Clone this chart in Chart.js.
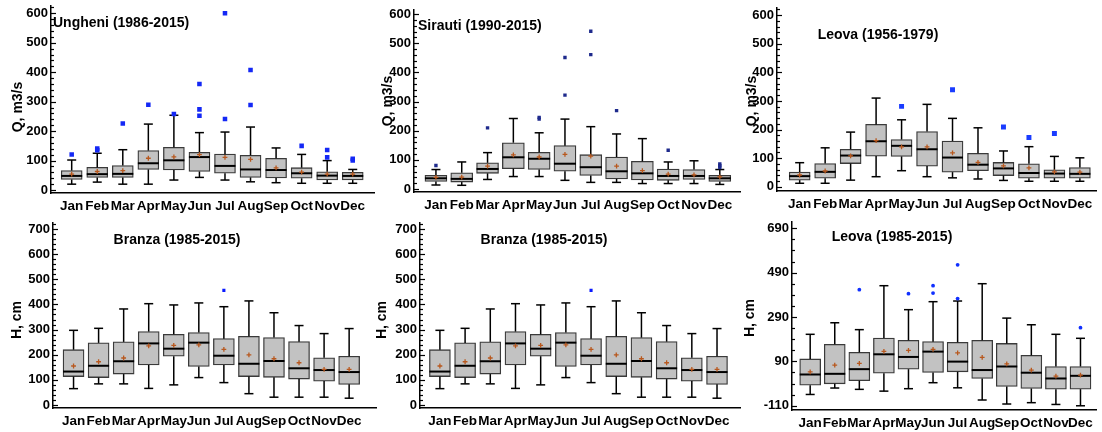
<!DOCTYPE html>
<html>
<head>
<meta charset="utf-8">
<script src="https://cdn.jsdelivr.net/npm/chart.js@4.4.1/dist/chart.umd.min.js"></script>
<style>
html, body { margin: 0; padding: 0; background: #fff; }
#wrap { position: relative; width: 1102px; height: 432px; overflow: hidden; }
#wrap canvas { position: absolute; }
</style>
</head>
<body>
<div id="wrap"></div>
<script>
const months = ['Jan', 'Feb', 'Mar', 'Apr', 'May', 'Jun', 'Jul', 'Aug', 'Sep', 'Oct', 'Nov', 'Dec'];

// tick labels
const qTicks = [0, 100, 200, 300, 400, 500, 600];
const hTicks = [0, 100, 200, 300, 400, 500, 600, 700];
const leovaHTicks = [-110, 90, 290, 490, 690];

// Ungheni (1986-2015), Q m3/s
const ungLow  = [20, 27, 20, 20, 34, 43, 34, 28, 25, 23, 23, 23];
const ungQ1   = [36, 43, 43, 70, 68, 63, 57, 43, 41, 40, 34, 34];
const ungMed  = [48, 54, 55, 91, 101, 112, 82, 70, 68, 57, 49, 48];
const ungQ3   = [66, 77, 83, 134, 145, 128, 122, 118, 108, 76, 62, 60];
const ungHigh = [102, 125, 137, 224, 254, 195, 197, 214, 143, 121, 100, 70];
const ungMean = [54, 63, 66, 108, 113, 120, 111, 104, 75, 61, 54, 54];
const ungOutMonth = [0, 1, 1, 2, 3, 4, 5, 5, 5, 6, 6, 7, 7, 9, 10, 10, 11, 11];
const ungOutValue = [121, 141, 135, 226, 290, 258, 360, 274, 252, 600, 241, 408, 289, 150, 136, 111, 106, 100];

// Sirauti (1990-2015), Q m3/s
const sirLow  = [14, 13, 33, 43, 43, 30, 23, 23, 19, 19, 19, 16];
const sirQ1   = [26, 24, 54, 70, 67, 61, 47, 35, 31, 30, 33, 26];
const sirMed  = [37, 35, 69, 109, 104, 87, 75, 61, 54, 45, 45, 37];
const sirQ3   = [47, 56, 90, 159, 126, 149, 118, 110, 95, 69, 67, 47];
const sirHigh = [67, 93, 125, 242, 193, 240, 214, 189, 173, 93, 97, 67];
const sirMean = [40, 41, 79, 117, 110, 119, 113, 79, 63, 51, 49, 42];
const sirOutMonth = [0, 2, 4, 4, 5, 5, 6, 6, 7, 9, 11, 11, 11];
const sirOutValue = [81, 210, 246, 240, 451, 322, 541, 461, 269, 133, 86, 80, 74];

// Leova (1956-1979), Q m3/s
const leoLow  = [12, 12, 23, 35, 56, 35, 31, 27, 22, 19, 19, 19];
const leoQ1   = [23, 30, 81, 107, 106, 72, 51, 56, 39, 30, 30, 30];
const leoMed  = [37, 52, 109, 159, 143, 131, 102, 77, 64, 48, 46, 45];
const leoQ3   = [51, 81, 131, 218, 165, 193, 160, 117, 85, 80, 59, 67];
const leoHigh = [84, 136, 191, 310, 234, 288, 239, 206, 125, 140, 106, 101];
const leoMean = [41, 55, 108, 161, 139, 139, 118, 85, 73, 66, 52, 51];
const leoOutMonth = [4, 6, 8, 9, 10];
const leoOutValue = [281, 339, 209, 172, 186];

// Branza (1985-2015), H cm
const braLow  = [65, 84, 84, 66, 80, 109, 89, 45, 31, 31, 31, 27];
const braQ1   = [113, 109, 123, 159, 194, 153, 159, 113, 110, 103, 95, 82];
const braMed  = [133, 156, 174, 245, 224, 248, 196, 164, 175, 146, 139, 131];
const braQ3   = [220, 247, 251, 292, 281, 288, 264, 273, 268, 252, 188, 194];
const braHigh = [297, 305, 382, 403, 398, 406, 391, 414, 367, 316, 284, 304];
const braMean = [155, 172, 187, 235, 237, 239, 221, 199, 184, 168, 142, 142];
const braOutMonth = [6];
const braOutValue = [456];

// Leova (1985-2015), H cm
const lvhLow  = [-59, -30, -36, -44, -33, -6, -29, -84, -102, -96, -104, -110];
const lvhQ1   = [-17, -11, 3, 37, 55, 40, 43, 13, -23, -32, -35, -35];
const lvhMed  = [31, 34, 55, 122, 110, 134, 89, 51, 67, 39, 13, 25];
const lvhQ3   = [101, 167, 131, 195, 185, 179, 176, 185, 171, 117, 67, 67];
const lvhHigh = [212, 264, 233, 431, 323, 359, 362, 440, 285, 255, 212, 194];
const lvhMean = [43, 73, 81, 135, 140, 144, 128, 108, 79, 51, 24, 28];
const lvhOutMonth = [2, 4, 5, 5, 6, 6, 11];
const lvhOutValue = [413, 395, 431, 398, 525, 373, 242];

const FONT = '"Liberation Sans", Arial, sans-serif';
const MEAN_COLOR = '#b8581e';

const panels = [
    { box: {x: 0, y: 0, w: 380, h: 215}, area: {l: 51, t: 6, r: 376, b: 193},
      yMin: -10, yMax: 625, xMin: -0.81, xMax: 11.86, ticks: qTicks, minorFrom: 0, minorStep: 20,
      title: 'Ungheni (1986-2015)', tx: 53, ty: 27, talign: 'left',
      yTitle: 'Q, m3/s', yx: 18, yy: 107,
      low: ungLow, q1: ungQ1, med: ungMed, q3: ungQ3, high: ungHigh, mean: ungMean,
      outM: ungOutMonth, outV: ungOutValue, outStyle: 'rect', outR: 3.2, outColor: '#1428f5', barW: 21 },
    { box: {x: 370, y: 0, w: 376, h: 215}, area: {l: 414, t: 10, r: 743, b: 192},
      yMin: -10, yMax: 614, xMin: -0.85, xMax: 11.81, ticks: qTicks, minorFrom: 0, minorStep: 20,
      title: 'Sirauti (1990-2015)', tx: 418, ty: 30, talign: 'left',
      yTitle: 'Q, m3/s', yx: 388, yy: 101,
      low: sirLow, q1: sirQ1, med: sirMed, q3: sirQ3, high: sirHigh, mean: sirMean,
      outM: sirOutMonth, outV: sirOutValue, outStyle: 'rect', outR: 2.4, outColor: '#1e2a8c', barW: 22 },
    { box: {x: 740, y: 0, w: 362, h: 215}, area: {l: 777, t: 8, r: 1101, b: 191},
      yMin: -15, yMax: 625, xMin: -0.89, xMax: 11.66, ticks: qTicks, minorFrom: 0, minorStep: 20,
      title: 'Leova (1956-1979)', tx: 878, ty: 39, talign: 'center',
      yTitle: 'Q, m3/s', yx: 752, yy: 101,
      low: leoLow, q1: leoQ1, med: leoMed, q3: leoQ3, high: leoHigh, mean: leoMean,
      outM: leoOutMonth, outV: leoOutValue, outStyle: 'rect', outR: 3.5, outColor: '#1a3cff', barW: 21 },
    { box: {x: 0, y: 215, w: 382, h: 217}, area: {l: 53, t: 223, r: 379, b: 408},
      yMin: -12, yMax: 724, xMin: -0.82, xMax: 12.1, ticks: hTicks, minorFrom: 0, minorStep: 20,
      title: 'Branza (1985-2015)', tx: 177, ty: 244, talign: 'center',
      yTitle: 'H, cm', yx: 17, yy: 320,
      low: braLow, q1: braQ1, med: braMed, q3: braQ3, high: braHigh, mean: braMean,
      outM: braOutMonth, outV: braOutValue, outStyle: 'rect', outR: 2.2, outColor: '#0a1aff', barW: 21 },
    { box: {x: 370, y: 215, w: 376, h: 217}, area: {l: 420, t: 223, r: 743, b: 408},
      yMin: -12, yMax: 724, xMin: -0.79, xMax: 11.94, ticks: hTicks, minorFrom: 0, minorStep: 20,
      title: 'Branza (1985-2015)', tx: 544, ty: 244, talign: 'center',
      yTitle: 'H, cm', yx: 382, yy: 320,
      low: braLow, q1: braQ1, med: braMed, q3: braQ3, high: braHigh, mean: braMean,
      outM: braOutMonth, outV: braOutValue, outStyle: 'rect', outR: 2.2, outColor: '#0a1aff', barW: 21 },
    { box: {x: 740, y: 215, w: 362, h: 217}, area: {l: 792, t: 222, r: 1100, b: 410},
      yMin: -129, yMax: 718, xMin: -0.74, xMax: 11.66, ticks: leovaHTicks, minorFrom: -110, minorStep: 50,
      title: 'Leova (1985-2015)', tx: 892, ty: 241, talign: 'center',
      yTitle: 'H, cm', yx: 750, yy: 318,
      low: lvhLow, q1: lvhQ1, med: lvhMed, q3: lvhQ3, high: lvhHigh, mean: lvhMean,
      outM: lvhOutMonth, outV: lvhOutValue, outStyle: 'circle', outR: 1.9, outColor: '#1030ff', barW: 21 }
];

// whiskers, caps and medians, plus inner tick marks and titles
function boxExtras(p) {
    function line(ctx, x1, y1, x2, y2) {
        ctx.beginPath();
        ctx.moveTo(x1, y1);
        ctx.lineTo(x2, y2);
        ctx.stroke();
    }
    return {
        id: 'boxExtras',
        afterDatasetDraw(chart, args) {
            if (args.index !== 0) return;
            const ctx = chart.ctx, xs = chart.scales.x, ys = chart.scales.y;
            ctx.save();
            ctx.strokeStyle = '#000';
            p.low.forEach((lo, i) => {
                const x = xs.getPixelForValue(i);
                const yLo = ys.getPixelForValue(lo);
                const yHi = ys.getPixelForValue(p.high[i]);
                const yQ1 = ys.getPixelForValue(p.q1[i]);
                const yQ3 = ys.getPixelForValue(p.q3[i]);
                const yMed = ys.getPixelForValue(p.med[i]);
                ctx.lineWidth = 1.5;
                line(ctx, x, yQ3, x, yHi);
                line(ctx, x, yQ1, x, yLo);
                line(ctx, x - 4.5, yHi, x + 4.5, yHi);
                line(ctx, x - 4.5, yLo, x + 4.5, yLo);
                ctx.lineWidth = 2;
                line(ctx, x - p.barW / 2, yMed, x + p.barW / 2, yMed);
            });
            ctx.restore();
        },
        afterDraw(chart) {
            const ctx = chart.ctx, ys = chart.scales.y;
            const left = chart.chartArea.left;
            ctx.save();
            ctx.strokeStyle = '#000';
            ctx.lineWidth = 1.2;
            for (let v = p.minorFrom; v <= p.yMax; v += p.minorStep) {
                const y = Math.round(ys.getPixelForValue(v)) + 0.5;
                const len = p.ticks.includes(v) ? 5 : 3;
                line(ctx, left, y, left + len, y);
            }
            ctx.fillStyle = '#000';
            ctx.font = 'bold 14px ' + FONT;
            ctx.textAlign = p.talign;
            ctx.textBaseline = 'alphabetic';
            ctx.fillText(p.title, p.tx - p.box.x, p.ty - p.box.y);

            ctx.translate(p.yx - p.box.x, p.yy - p.box.y);
            ctx.rotate(-Math.PI / 2);
            ctx.textAlign = 'center';
            ctx.textBaseline = 'middle';
            ctx.font = 'bold 14px ' + FONT;
            ctx.fillText(p.yTitle, 0, 0);
            ctx.restore();
        }
    };
}

function makePanel(p) {
    const cv = document.createElement('canvas');
    cv.width = p.box.w;
    cv.height = p.box.h;
    cv.style.left = p.box.x + 'px';
    cv.style.top = p.box.y + 'px';
    document.getElementById('wrap').appendChild(cv);

    const a = p.area;
    const yW = a.l - p.box.x;
    const xH = p.box.y + p.box.h - a.b;
    const idx = months.map((m, i) => i);

    new Chart(cv, {
        type: 'bar',
        data: {
            datasets: [
                {
                    type: 'bar', order: 3,
                    data: idx.map(i => ({ x: i, y: [p.q1[i], p.q3[i]] })),
                    backgroundColor: '#c2c2c2', borderColor: '#3a3a3a', borderWidth: 1.3,
                    borderSkipped: false, barThickness: p.barW
                },
                {
                    type: 'scatter', order: 2,
                    data: p.outM.map((m, k) => ({ x: m, y: p.outV[k] })),
                    pointStyle: p.outStyle, pointRadius: p.outR,
                    backgroundColor: p.outColor, borderColor: p.outColor, borderWidth: 0
                },
                {
                    type: 'scatter', order: 1,
                    data: idx.map(i => ({ x: i, y: p.mean[i] })),
                    pointStyle: 'cross', pointRadius: 2.4,
                    borderColor: MEAN_COLOR, borderWidth: 1.3
                }
            ]
        },
        options: {
            responsive: false,
            devicePixelRatio: 1,
            animation: false,
            events: [],
            layout: { padding: { left: 0, top: a.t - p.box.y, right: p.box.x + p.box.w - a.r, bottom: 0 } },
            plugins: { legend: { display: false }, tooltip: { enabled: false } },
            scales: {
                x: {
                    type: 'linear', offset: false, min: p.xMin, max: p.xMax,
                    afterBuildTicks: s => { s.ticks = idx.map(i => ({ value: i })); },
                    afterFit: s => { s.height = xH; s.paddingLeft = 0; s.paddingRight = 0; },
                    grid: { display: true, drawOnChartArea: false, drawTicks: false, offset: false },
                    border: { display: true, color: '#000', width: 1.5 },
                    ticks: {
                        autoSkip: false, maxRotation: 0, padding: 5, color: '#000',
                        font: { family: FONT, size: 13.5, weight: 'bold' },
                        callback: v => months[v]
                    }
                },
                y: {
                    min: p.yMin, max: p.yMax,
                    afterBuildTicks: s => { s.ticks = p.ticks.map(v => ({ value: v })); },
                    afterFit: s => { s.width = yW; s.paddingTop = 0; s.paddingBottom = 0; },
                    grid: { display: true, drawOnChartArea: false, drawTicks: false },
                    border: { display: true, color: '#000', width: 1.5 },
                    ticks: {
                        padding: 3, color: '#000',
                        font: { family: FONT, size: 13, weight: 'bold' },
                        callback: v => String(v)
                    }
                }
            }
        },
        plugins: [boxExtras(p)]
    });
}

panels.forEach(makePanel);
</script>
</body>
</html>
